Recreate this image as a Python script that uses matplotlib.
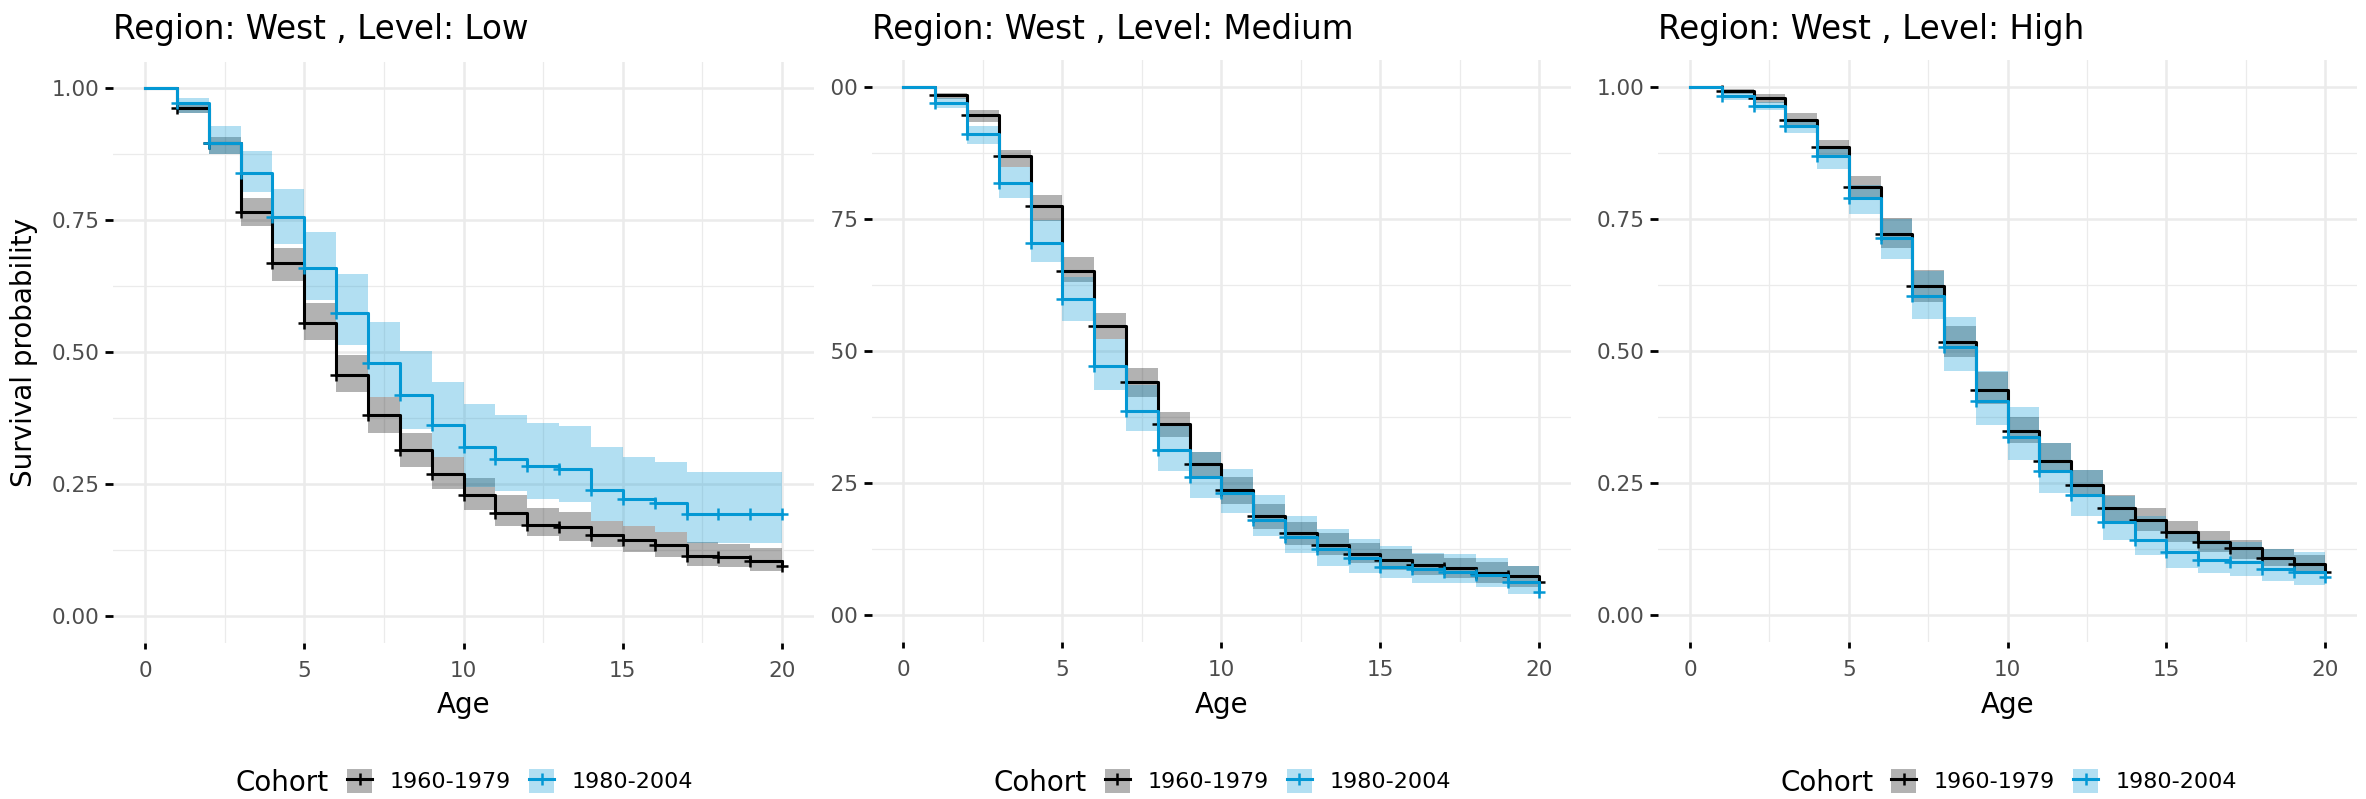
import numpy as np
import matplotlib.pyplot as plt
from matplotlib.patches import Patch
from matplotlib.lines import Line2D
from matplotlib.transforms import Bbox

W, H = 2366, 799

ages = np.arange(0, 21)
region = 'West'
levels = ['Low', 'Medium', 'High']
cohorts = ['1960-1979', '1980-2004']
cohort_colors = ['#000000', '#0398D4']

## Level: Low
low_old = [1.0, 0.962, 0.897, 0.765, 0.669, 0.555, 0.457, 0.381, 0.315, 0.269, 0.230,
           0.195, 0.173, 0.169, 0.154, 0.145, 0.135, 0.115, 0.112, 0.105, 0.095]
low_old_hi = [0.972, 0.908, 0.793, 0.697, 0.593, 0.494, 0.416, 0.348, 0.301, 0.261,
              0.230, 0.205, 0.197, 0.181, 0.171, 0.160, 0.140, 0.136, 0.129]
low_old_lo = [0.953, 0.875, 0.740, 0.635, 0.523, 0.424, 0.348, 0.283, 0.241, 0.201,
              0.171, 0.153, 0.143, 0.132, 0.122, 0.112, 0.096, 0.093, 0.086]
low_new = [1.0, 0.972, 0.896, 0.839, 0.756, 0.659, 0.574, 0.479, 0.420, 0.362, 0.321,
           0.297, 0.285, 0.279, 0.240, 0.223, 0.214, 0.194, 0.194, 0.194, 0.194]
low_new_hi = [0.982, 0.929, 0.881, 0.809, 0.727, 0.648, 0.558, 0.502, 0.444, 0.403,
              0.381, 0.367, 0.361, 0.321, 0.302, 0.293, 0.274, 0.274, 0.274]
low_new_lo = [0.953, 0.875, 0.804, 0.706, 0.600, 0.513, 0.416, 0.355, 0.302, 0.245,
              0.238, 0.223, 0.217, 0.181, 0.171, 0.160, 0.139, 0.139, 0.139]

## Level: Medium
med_old = [1.0, 0.984, 0.946, 0.868, 0.775, 0.651, 0.548, 0.441, 0.362, 0.287, 0.237,
           0.188, 0.156, 0.133, 0.116, 0.104, 0.095, 0.089, 0.079, 0.074, 0.063]
med_old_hi = [0.988, 0.956, 0.880, 0.795, 0.677, 0.572, 0.467, 0.385, 0.309, 0.261,
              0.211, 0.177, 0.155, 0.137, 0.125, 0.116, 0.108, 0.100, 0.094]
med_old_lo = [0.976, 0.934, 0.849, 0.746, 0.630, 0.523, 0.413, 0.338, 0.261, 0.211,
              0.164, 0.133, 0.114, 0.098, 0.085, 0.076, 0.070, 0.061, 0.054]
med_new = [1.0, 0.969, 0.910, 0.817, 0.704, 0.598, 0.472, 0.387, 0.313, 0.261, 0.231,
           0.181, 0.147, 0.125, 0.108, 0.092, 0.087, 0.082, 0.076, 0.062, 0.043]
med_new_hi = [0.978, 0.926, 0.849, 0.748, 0.640, 0.523, 0.435, 0.359, 0.309, 0.276,
              0.227, 0.188, 0.163, 0.145, 0.130, 0.118, 0.116, 0.109, 0.093]
med_new_lo = [0.959, 0.891, 0.789, 0.668, 0.557, 0.426, 0.348, 0.273, 0.221, 0.193,
              0.150, 0.117, 0.093, 0.080, 0.070, 0.060, 0.060, 0.054, 0.041]

## Level: High
high_old = [1.0, 0.992, 0.978, 0.937, 0.885, 0.811, 0.721, 0.623, 0.516, 0.426, 0.348,
            0.292, 0.246, 0.203, 0.181, 0.157, 0.138, 0.127, 0.109, 0.096, 0.082]
high_old_hi = [0.996, 0.986, 0.950, 0.900, 0.831, 0.751, 0.653, 0.547, 0.460, 0.375,
               0.325, 0.274, 0.227, 0.203, 0.178, 0.159, 0.142, 0.126, 0.113]
high_old_lo = [0.987, 0.970, 0.928, 0.871, 0.792, 0.694, 0.593, 0.488, 0.400, 0.326,
               0.271, 0.224, 0.179, 0.160, 0.138, 0.119, 0.107, 0.094, 0.080]
high_new = [1.0, 0.982, 0.964, 0.926, 0.868, 0.790, 0.713, 0.604, 0.508, 0.406, 0.338,
            0.273, 0.227, 0.176, 0.142, 0.119, 0.104, 0.100, 0.088, 0.082, 0.072]
high_new_hi = [0.989, 0.972, 0.937, 0.883, 0.814, 0.749, 0.652, 0.564, 0.462, 0.394,
               0.325, 0.275, 0.225, 0.187, 0.157, 0.142, 0.138, 0.126, 0.119]
high_new_lo = [0.975, 0.956, 0.913, 0.845, 0.760, 0.674, 0.560, 0.463, 0.359, 0.293,
               0.231, 0.188, 0.143, 0.113, 0.090, 0.080, 0.075, 0.064, 0.058]

panels = [
  [(low_old, low_old_lo, low_old_hi), (low_new, low_new_lo, low_new_hi)],
  [(med_old, med_old_lo, med_old_hi), (med_new, med_new_lo, med_new_hi)],
  [(high_old, high_old_lo, high_old_hi), (high_new, high_new_lo, high_new_hi)],
]

# panel boxes in pixels: left, top, right, bottom
boxes = [(113.2, 61.9, 813.9, 642.7), (871.5, 60.3, 1571.1, 641.6), (1658.2, 60.3, 2357.1, 641.6)]

tick_col = '#4D4D4D'
grid_col = '#EBEBEB'


def draw_curve(ax, surv, lower, upper, color):
  ax.fill_between(ages[1:], lower + [lower[-1]], upper + [upper[-1]], step='post',
                  facecolor=color, alpha=0.3, linewidth=0, edgecolor='none')
  ax.step(ages, surv, where='post', color=color, lw=2.2)
  ax.plot(ages[1:], surv[1:], ls='none', marker='+', ms=8, mew=1.8, color=color)


fig = plt.figure(figsize=(W / 100, H / 100), dpi=100)

axes = []
for i, (l, t, r, b) in enumerate(boxes):
  ax = fig.add_axes([l / W, 1 - b / H, (r - l) / W, (b - t) / H])
  axes.append(ax)
  for (surv, lo, hi), c in zip(panels[i], cohort_colors):
    draw_curve(ax, surv, lo, hi, c)
  ax.set_xlim(-1, 21)
  ax.set_ylim(-0.05, 1.05)
  ax.set_xticks([0, 5, 10, 15, 20])
  ax.set_xticks([2.5, 7.5, 12.5, 17.5], minor=True)
  ax.set_yticks([0, 0.25, 0.5, 0.75, 1.0])
  ax.set_yticklabels(['0.00', '0.25', '0.50', '0.75', '1.00'])
  ax.set_yticks([0.125, 0.375, 0.625, 0.875], minor=True)
  ax.grid(which='major', color=grid_col, lw=1.8)
  ax.grid(which='minor', color=grid_col, lw=0.9)
  ax.set_axisbelow(True)
  for s in ax.spines.values():
    s.set_visible(False)
  ax.tick_params(which='minor', length=0)
  ax.tick_params(axis='x', which='major', length=4.3, width=2, pad=9,
                 labelsize=15.5, labelcolor=tick_col, color='black')
  ax.tick_params(axis='y', which='major', length=6, width=2, pad=3.6,
                 labelsize=15.5, labelcolor=tick_col, color='black')

  cx = (l + r) / 2
  fig.text(l / W, 1 - 39 / H, 'Region: %s , Level: %s' % (region, levels[i]),
           fontsize=23.5, ha='left', va='baseline')
  fig.text(cx / W, 1 - 713 / H, 'Age', fontsize=20, ha='center', va='baseline')

  handles = [(Patch(facecolor=c, alpha=0.3, edgecolor='none'),
              Line2D([], [], color=c, lw=2.2, marker='+', ms=8, mew=1.8))
             for c in cohort_colors]
  fig.legend(handles, cohorts, loc='center left',
             bbox_to_anchor=((cx - 116.5) / W, 1 - 781 / H), ncol=2, frameon=False,
             fontsize=16, handlelength=1.13, handleheight=1.26, handletextpad=0.8,
             columnspacing=0.8, borderpad=0, borderaxespad=0, numpoints=1)
  fig.text((cx - 134.5) / W, 1 - 783 / H, 'Cohort', fontsize=20, ha='right', va='center')

fig.text(24 / W, 1 - 352 / H, 'Survival probability', fontsize=20, rotation=90,
         ha='center', va='center')

# the middle panel sits partly under the first one, its y labels are cut off
clip = Bbox([[829, 0], [W, H]])
for tk in axes[1].yaxis.get_major_ticks():
  tk.label1.set_clip_on(True)
  tk.label1.set_clip_box(clip)

plt.savefig('out.png', dpi=100)
